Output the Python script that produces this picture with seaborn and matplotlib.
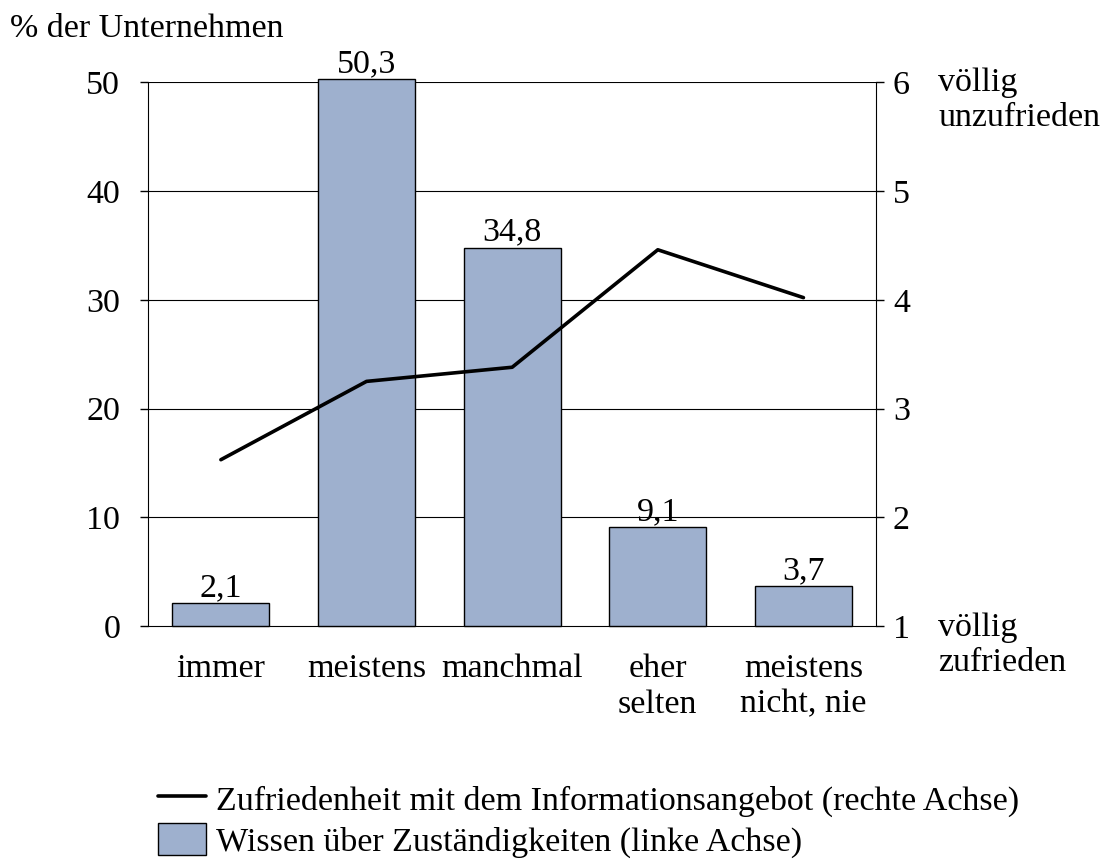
import numpy as np
import pandas as pd
import matplotlib
matplotlib.use("Agg")
import matplotlib.pyplot as plt
import seaborn as sns
from matplotlib.lines import Line2D
from matplotlib.patches import Patch

categories = ["immer", "meistens", "manchmal", "eher\nselten", "meistens\nnicht, nie"]
wissen = [2.1, 50.3, 34.8, 9.1, 3.7]
zufriedenheit = [2.53, 3.25, 3.38, 4.46, 4.02]
left_ticks = [0, 10, 20, 30, 40, 50]
right_ticks = [1, 2, 3, 4, 5, 6]

bar_color = "#9EB0CE"
fs = 24.5

sns.set_style("white")
plt.rcParams["font.family"] = ["Liberation Serif", "DejaVu Serif"]
plt.rcParams["font.size"] = fs
plt.rcParams["text.color"] = "black"
plt.rcParams["xtick.color"] = "black"
plt.rcParams["ytick.color"] = "black"

df = pd.DataFrame({"kategorie": categories, "wissen": wissen})

fig = plt.figure(figsize=(11.05, 8.66), dpi=100)
ax = fig.add_axes([0.134, 0.277, 0.659, 0.628])

sns.barplot(data=df, x="kategorie", y="wissen", color=bar_color, width=0.665,
            edgecolor="black", linewidth=1.0, saturation=1, ax=ax, zorder=3)
for p in ax.patches:
    p.set_clip_on(False)
ax.set_xlim(-0.5, 4.5)
ax.set_ylim(0, 50)
ax.set_yticks(left_ticks)
ax.set_xlabel("")
ax.set_ylabel("")
for y in left_ticks[1:]:
    ax.axhline(y, color="black", lw=0.8, zorder=1)
txts = ax.bar_label(ax.containers[0], labels=[f"{v:.1f}".replace(".", ",") for v in wissen],
                    padding=0, fontsize=fs, color="black")
for t in txts:
    t.set_clip_on(False)
    t.set_annotation_clip(False)
ax.tick_params(axis="y", length=6, width=1, pad=14, labelsize=fs, color="black")
ax.tick_params(axis="x", length=0, pad=20, labelsize=fs)
for s in ["top", "right"]:
    ax.spines[s].set_visible(False)
ax.spines["left"].set_color("black")
ax.spines["bottom"].set_color("black")

ax2 = ax.twinx()
sns.lineplot(x=np.arange(len(categories)), y=zufriedenheit, color="black", lw=2.6, ax=ax2, zorder=4)
ax2.set_ylim(1, 6)
ax2.set_yticks(right_ticks)
ax2.tick_params(axis="y", length=6, width=1, pad=6, labelsize=fs, color="black")
for s in ["top", "left", "bottom"]:
    ax2.spines[s].set_visible(False)
ax2.spines["right"].set_color("black")
ax2.set_ylabel("")

fig.text(0.009, 0.984, "% der Unternehmen", va="top", ha="left", fontsize=fs)
fig.text(0.849, 0.922, "völlig\nunzufrieden", va="top", ha="left", fontsize=fs, linespacing=1.2)
fig.text(0.849, 0.293, "völlig\nzufrieden", va="top", ha="left", fontsize=fs, linespacing=1.2)

handles = [Line2D([], [], color="black", lw=2.6),
           Patch(facecolor=bar_color, edgecolor="black", lw=1.0)]
labels = ["Zufriedenheit mit dem Informationsangebot (rechte Achse)",
          "Wissen über Zuständigkeiten (linke Achse)"]
fig.legend(handles, labels, loc="upper left", bbox_to_anchor=(0.143, 0.097),
           frameon=False, fontsize=fs, handlelength=1.4, handleheight=1.05,
           handletextpad=0.3, labelspacing=0.2, borderpad=0, borderaxespad=0)

fig.savefig("out.png", dpi=100)
